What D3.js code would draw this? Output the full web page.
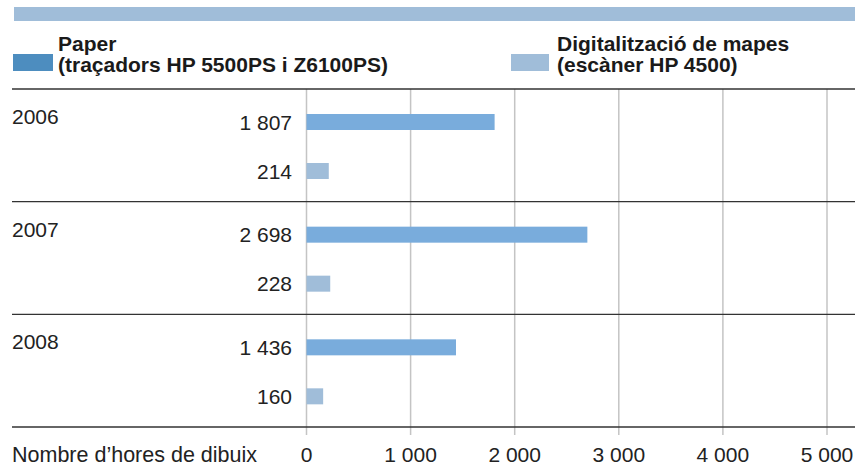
<!DOCTYPE html>
<html>
<head>
<meta charset="utf-8">
<script src="https://cdn.jsdelivr.net/npm/d3@7/dist/d3.min.js"></script>
<style>
  html, body { margin: 0; padding: 0; background: #fff; }
  svg { display: block; font-family: "Liberation Sans", Arial, Helvetica, sans-serif; }
</style>
</head>
<body>
<svg id="chart" width="863" height="474"></svg>
<script>
// Hours of drawing per year
const years = ["2006", "2007", "2008"];
const seriesKeys = ["paper", "digital"];
const paperHours = [1807, 2698, 1436];
const digitalHours = [214, 228, 160];
const xTicks = [0, 1000, 2000, 3000, 4000, 5000];
const legendLabels = [
  ["Paper", "(traçadors HP 5500PS i Z6100PS)"],
  ["Digitalització de mapes", "(escàner HP 4500)"]
];
const axisTitle = "Nombre d’hores de dibuix";

const barColors = { paper: "#79acdc", digital: "#a0bdd9" };
const legendColors = ["#4d8dbf", "#a0bdd9"];

const rows = years.map((y, i) => ({ year: y, paper: paperHours[i], digital: digitalHours[i] }));

const svg = d3.select("#chart");
const fmt = d3.formatLocale({ decimal: ",", thousands: " ", grouping: [3], currency: ["", ""] }).format(",d");

const x = d3.scaleLinear().domain([0, 5000]).range([306.5, 827]);
const y = d3.scaleBand().domain(years).range([89, 427]).padding(0);
const yInner = d3.scalePoint().domain(seriesKeys).range([33, 82]);
const barH = 16;
const left = 12, right = 855;
const fs = 21;

// top band
svg.append("rect").attr("x", 14).attr("y", 7).attr("width", right - 14).attr("height", 14)
  .attr("fill", "#a0bdd9");

// legend
const legendX = [13, 511];
const legendW = [40, 38];
const legendTextX = [58, 557];
legendLabels.forEach((lines, i) => {
  svg.append("rect").attr("x", legendX[i]).attr("y", 54).attr("width", legendW[i]).attr("height", 17)
    .attr("fill", legendColors[i]);
  const t = svg.append("text").attr("x", legendTextX[i]).attr("y", 51)
    .attr("font-size", fs).attr("font-weight", "bold").attr("fill", "#1a1a1a");
  lines.forEach((ln, j) => t.append("tspan").attr("x", legendTextX[i]).attr("dy", j === 0 ? 0 : 21).text(ln));
});

// vertical gridlines
svg.append("g").selectAll("line").data(xTicks).join("line")
  .attr("x1", d => x(d)).attr("x2", d => x(d))
  .attr("y1", 89).attr("y2", 435)
  .attr("stroke", "#c4c4c4").attr("stroke-width", 1.5);

// horizontal separators between years
const seps = years.map(yr => y(yr)).concat([y.range()[1]]);
svg.append("g").selectAll("line").data(seps).join("line")
  .attr("x1", left).attr("x2", right)
  .attr("y1", d => d).attr("y2", d => d)
  .attr("stroke", "#333").attr("stroke-width", 1.3);

// bars and labels
const groups = svg.append("g").selectAll("g").data(rows).join("g")
  .attr("transform", d => `translate(0,${y(d.year)})`);

groups.append("text").attr("x", left).attr("y", 35)
  .attr("font-size", fs).attr("fill", "#222").text(d => d.year);

seriesKeys.forEach(k => {
  groups.append("rect")
    .attr("x", x(0))
    .attr("y", yInner(k) - barH / 2)
    .attr("width", d => x(d[k]) - x(0))
    .attr("height", barH)
    .attr("fill", barColors[k]);
  groups.append("text")
    .attr("x", 292).attr("y", yInner(k))
    .attr("dy", "0.36em")
    .attr("text-anchor", "end")
    .attr("font-size", fs).attr("fill", "#222")
    .text(d => fmt(d[k]));
});

// x tick labels
svg.append("g").selectAll("text").data(xTicks).join("text")
  .attr("x", d => x(d)).attr("y", 462)
  .attr("text-anchor", "middle")
  .attr("font-size", fs).attr("fill", "#222")
  .text(d => fmt(d));

svg.append("text").attr("x", left).attr("y", 462)
  .attr("font-size", 21.5).attr("fill", "#222").text(axisTitle);
</script>
</body>
</html>
